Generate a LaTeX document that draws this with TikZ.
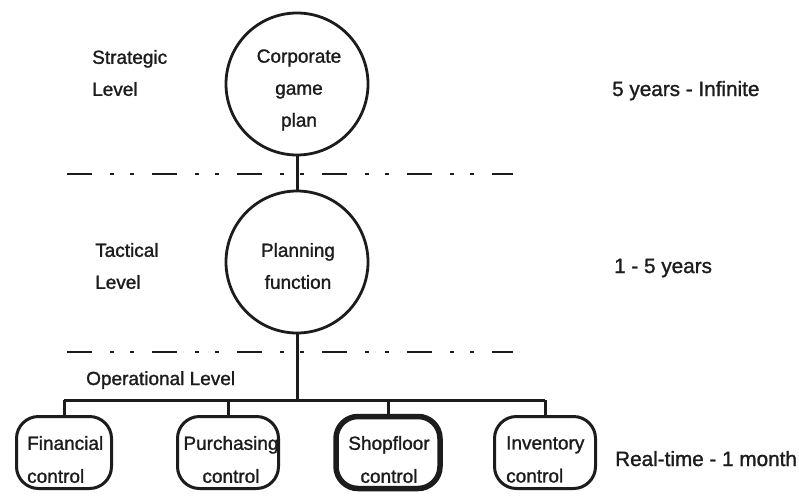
\documentclass[tikz,border=0pt]{standalone}
\usepackage{fontspec}
\setmainfont{Liberation Sans}[FakeBold=1.3]
\definecolor{ink}{HTML}{1C1C1C}
\begin{document}
\begin{tikzpicture}[x=1pt,y=-1pt,
  lbl/.style={font=\fontsize{19}{32}\selectfont, inner sep=0pt, text=ink},
  span/.style={font=\fontsize{20.7}{24}\selectfont, inner sep=0pt, anchor=base west, text=ink},
  level/.style={circle, draw=ink, line width=2.8pt, minimum size=142pt, inner sep=0pt},
  unit/.style={draw=ink, line width=3pt, rounded corners=22pt, minimum height=72pt,
               minimum width=101pt, inner sep=0pt},
  link/.style={draw=ink, line width=3pt},
  divider/.style={draw=ink, line width=2.2pt,
                  dash pattern=on 25pt off 18pt on 4pt off 16pt on 4pt off 18pt}]
\useasboundingbox[fill=white] (0,0) rectangle (799,495);

% level dividers
\coordinate (d1L) at (67,174);
\coordinate (d1R) at (513,174);
\coordinate (d2L) at (67,352);
\coordinate (d2R) at (513,352);
\draw[divider] (d1L) -- (d1R);
\draw[divider] (d2L) -- (d2R);

% level names
\node[lbl, anchor=west, align=left] (strat) at (92,73) {Strategic\\Level};
\node[lbl, anchor=west, align=left] (tact) at (95,266) {Tactical\\Level};
\node[lbl, anchor=base west] (oper) at (86,385) {Operational Level};

% planning horizons
\node[span] (h1) at (612,96) {5 years - Infinite};
\node[span] (h2) at (614,273) {1 - 5 years};
\node[span] (h3) at (615,466) {Real-time - 1 month};

% functions
\node[level] (corp) at (297,84) {};
\node[lbl, align=center] (corpt) at (299,90) {Corporate\\game\\plan};
\node[level] (plan) at (297,262) {};
\node[lbl, align=center] (plant) at (298,266) {Planning\\function};

% control units
\node[unit, minimum width=95pt] (fin) at (64,452.5) {};
\node[unit] (pur) at (228,452.5) {};
\node[unit, line width=5.5pt, minimum width=104pt] (shop) at (388,452.5) {};
\node[unit] (inv) at (545,452.5) {};

\node[lbl, anchor=west, align=left, font=\fontsize{19}{33}\selectfont] (fint) at (27,459.5) {Financial\\control};
\node[lbl, align=center, font=\fontsize{19}{33}\selectfont] (purt) at (231,459.5) {Purchasing\\control};
\node[lbl, align=center, font=\fontsize{19}{33}\selectfont] (shopt) at (389,459.5) {Shopfloor\\control};
\node[lbl, anchor=west, align=left, font=\fontsize{19}{33}\selectfont] (invt) at (506,459.5) {Inventory\\control};

% connectors
\coordinate (bus) at (297,400);
\draw[link] (corp.south) -- (plan.north);
\draw[link] (plan.south) -- (bus);
\draw[link] (fin.north |- bus) -- (inv.north |- bus);
\draw[link] (fin.north) -- (fin.north |- bus);
\draw[link] (pur.north) -- (pur.north |- bus);
\draw[link] (shop.north) -- (shop.north |- bus);
\draw[link] (inv.north) -- (inv.north |- bus);
\end{tikzpicture}
\end{document}
